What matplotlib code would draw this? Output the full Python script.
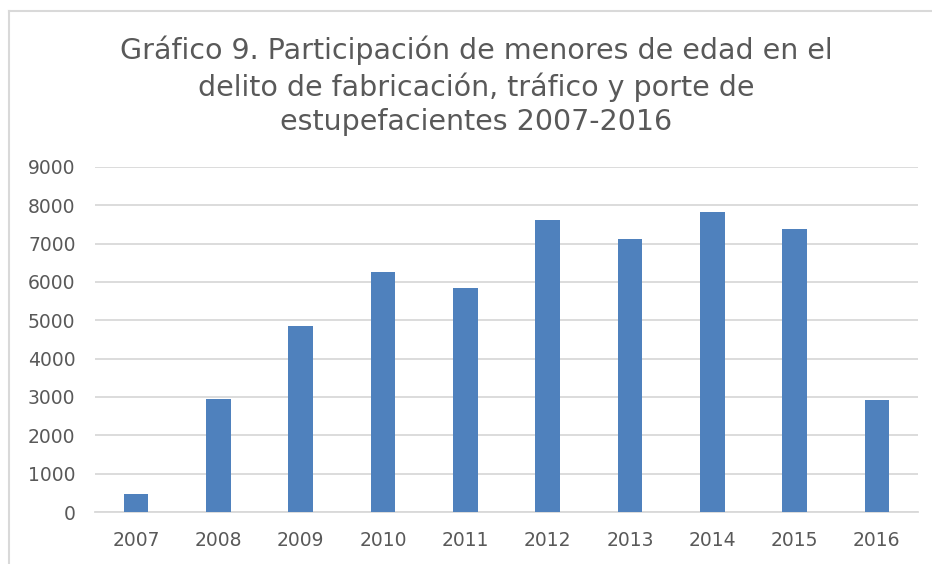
import matplotlib.pyplot as plt
import numpy as np

# Data
years = ["2007", "2008", "2009", "2010", "2011", "2012", "2013", "2014", "2015", "2016"]
menores = [470, 2960, 4860, 6270, 5855, 7605, 7110, 7815, 7395, 2925]
yticks = [0, 1000, 2000, 3000, 4000, 5000, 6000, 7000, 8000, 9000]

title = ("Gráfico 9. Participación de menores de edad en el\n"
         "delito de fabricación, tráfico y porte de\n"
         "estupefacientes 2007-2016")

text_color = "#595959"
grid_color = "#d9d9d9"
bar_color = "#4f81bd"

fig = plt.figure(figsize=(9.32, 5.64), dpi=100)
ax = fig.add_axes([95 / 932, 1 - 512 / 564, 823 / 932, 345 / 564])

ind = np.arange(len(years))
ax.bar(ind, menores, 0.3, color=bar_color, zorder=3)

ax.set_xlim(-0.5, len(years) - 0.5)
ax.set_ylim(0, 9000)
ax.set_yticks(yticks)
ax.set_xticks(ind)
ax.set_xticklabels(years)
ax.yaxis.grid(True, color=grid_color, linewidth=1.3, zorder=0)
ax.tick_params(axis="both", length=0, labelsize=13.5, colors=text_color)
ax.tick_params(axis="x", pad=14)
ax.tick_params(axis="y", pad=14)
for s in ["top", "right", "left"]:
    ax.spines[s].set_visible(False)
ax.spines["bottom"].set_color(grid_color)
ax.spines["bottom"].set_linewidth(1.3)

# chart area border (left and top edge visible in the crop)
fig.add_artist(plt.Line2D([9 / 932, 9 / 932], [0, 1 - 11 / 564],
                          transform=fig.transFigure, color="#d9d9d9", linewidth=1.5))
fig.add_artist(plt.Line2D([9 / 932, 1], [1 - 11 / 564, 1 - 11 / 564],
                          transform=fig.transFigure, color="#d9d9d9", linewidth=1.5))

fig.text(476 / 932, 1 - 86 / 564, title, ha="center", va="center",
         fontsize=20.5, color=text_color, linespacing=1.3)

fig.savefig("out.png", dpi=100)
